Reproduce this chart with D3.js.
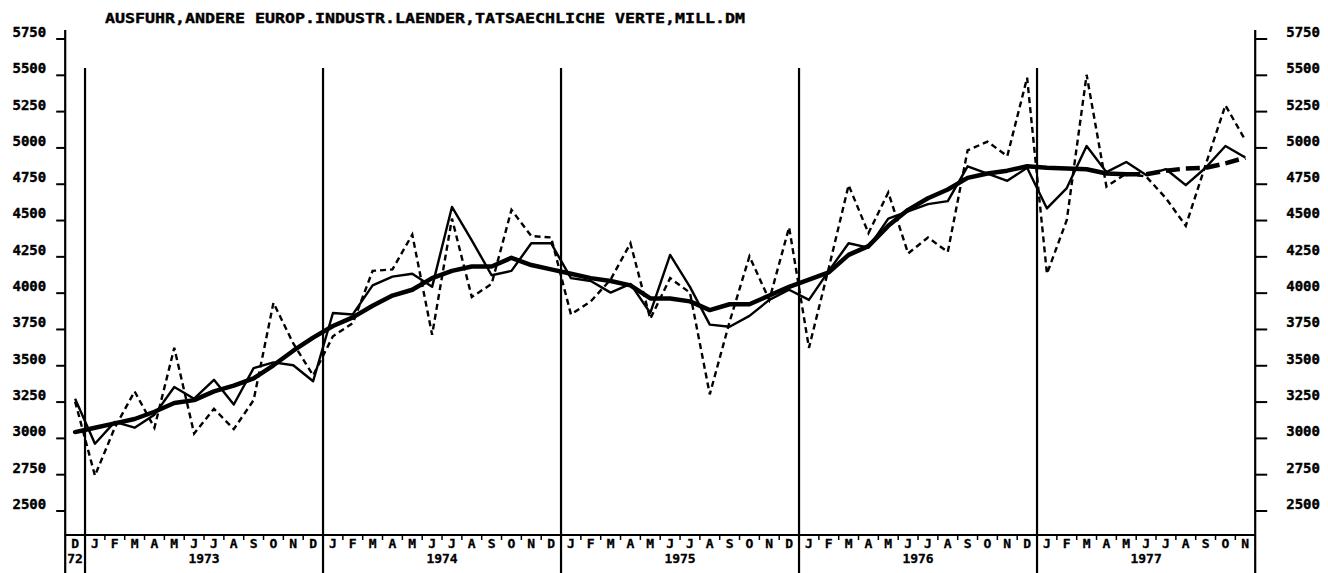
<!DOCTYPE html>
<html>
<head>
<meta charset="utf-8">
<script src="https://cdn.jsdelivr.net/npm/d3@7"></script>
<style>
  html, body { margin: 0; padding: 0; background: #fff; }
  svg { display: block; }
  text { font-family: "DejaVu Sans Mono", "Liberation Mono", monospace; font-weight: bold; fill: #000; }
</style>
</head>
<body>
<svg id="chart" width="1328" height="573"></svg>
<script>
// Exports to other European industrial countries, actual values, million DM
// Monthly series from Dec 1972 (index 0) to Nov 1977 (index 59)
const title = "AUSFUHR,ANDERE EUROP.INDUSTR.LAENDER,TATSAECHLICHE VERTE,MILL.DM";

const monthInitials = ["J", "F", "M", "A", "M", "J", "J", "A", "S", "O", "N", "D"];
const firstMonth = 11;              // series starts in December
const yearLabels = ["72", "1973", "1974", "1975", "1976", "1977"];
const yearFirstIndex = [0, 1, 13, 25, 37, 49];
const yearLastIndex  = [0, 12, 24, 36, 48, 59];

const yTicks = [2500, 2750, 3000, 3250, 3500, 3750, 4000, 4250, 4500, 4750, 5000, 5250, 5500, 5750];

// actual values (dashed)
const actual = [
  3250,
  2740, 3070, 3320, 3070, 3620, 3030, 3200, 3060, 3260, 3930, 3650, 3430,
  3700, 3790, 4150, 4160, 4400, 3710, 4510, 3970, 4060, 4570, 4390, 4380,
  3850, 3940, 4090, 4340, 3820, 4100, 4000, 3300, 3800, 4250, 3950, 4450,
  3620, 4170, 4740, 4410, 4690, 4270, 4380, 4280, 4980, 5040, 4940, 5480,
  4130, 4500, 5500, 4730, 4820, 4800, 4650, 4460, 4880, 5290, 5050
];

// seasonally adjusted values (thin solid)
const adjusted = [
  3270,
  2960, 3110, 3070, 3160, 3350, 3270, 3400, 3230, 3480, 3520, 3500, 3390,
  3860, 3850, 4050, 4110, 4130, 4040, 4590, 4360, 4120, 4150, 4340, 4340,
  4100, 4080, 4000, 4060, 3860, 4260, 4040, 3780, 3765, 3840, 3950, 4020,
  3950, 4150, 4340, 4310, 4510, 4560, 4610, 4630, 4870, 4820, 4770, 4860,
  4580, 4720, 5010, 4830, 4900, 4810, 4850, 4740, 4860, 5010, 4930
];

// trend (thick), extrapolated part drawn dashed from trendForecastStart
const trend = [
  3040,
  3070, 3100, 3130, 3180, 3240, 3260, 3320, 3360, 3410, 3500, 3600, 3690,
  3770, 3830, 3910, 3980, 4020, 4100, 4150, 4180, 4180, 4240, 4190, 4160,
  4130, 4100, 4080, 4050, 3960, 3960, 3940, 3880, 3920, 3920, 3980, 4040,
  4090, 4140, 4260, 4320, 4460, 4570, 4650, 4710, 4790, 4820, 4840, 4870,
  4860, 4855, 4850, 4820, 4815, 4815, 4840, 4855, 4860, 4890, 4930
];
const trendForecastStart = 53;

const n = actual.length;
const svg = d3.select("#chart");

const x = d3.scaleLinear().domain([-0.5, n - 0.5]).range([65.2, 1255.2]);
const y = d3.scaleLinear().domain([2500, 5750]).range([510.5, 38.5]);

const axisTop = 30, chartBottom = 573, monthLineY = 535;
const xLeft = x(-0.5), xRight = x(n - 0.5);

// title
svg.append("text")
  .attr("x", 105).attr("y", 23)
  .attr("font-size", 14)
  .attr("stroke", "#000").attr("stroke-width", 0.4)
  .attr("textLength", 640).attr("lengthAdjust", "spacingAndGlyphs")
  .text(title);

// vertical frame lines
svg.append("g").selectAll("line")
  .data([xLeft, xRight])
  .join("line")
  .attr("x1", d => d).attr("x2", d => d)
  .attr("y1", axisTop).attr("y2", chartBottom)
  .attr("stroke", "#000").attr("stroke-width", 2.2);

// year dividers
svg.append("g").selectAll("line")
  .data(yearFirstIndex.slice(1))
  .join("line")
  .attr("x1", d => x(d - 0.5)).attr("x2", d => x(d - 0.5))
  .attr("y1", 68).attr("y2", chartBottom)
  .attr("stroke", "#000").attr("stroke-width", 2.2);

// y axes
const styleAxis = g => {
  g.select(".domain").remove();
  g.selectAll(".tick line").attr("stroke", "#000").attr("stroke-width", 2);
  g.selectAll(".tick text").attr("font-size", 14).attr("dy", "-0.15em")
    .attr("stroke", "#000").attr("stroke-width", 0.4)
    .attr("font-family", "\"DejaVu Sans Mono\", monospace").attr("font-weight", "bold");
};
svg.append("g")
  .attr("transform", `translate(${xLeft},0)`)
  .call(d3.axisLeft(y).tickValues(yTicks).tickSize(9).tickPadding(10).tickFormat(d3.format("d")))
  .call(styleAxis);
svg.append("g")
  .attr("transform", `translate(${xRight},0)`)
  .call(d3.axisRight(y).tickValues(yTicks).tickSize(12).tickPadding(19).tickFormat(d3.format("d")))
  .call(styleAxis);

// month strip
svg.append("line")
  .attr("x1", xLeft).attr("x2", xRight)
  .attr("y1", monthLineY).attr("y2", monthLineY)
  .attr("stroke", "#000").attr("stroke-width", 2.2);

svg.append("g").selectAll("line")
  .data(d3.range(1, n))
  .join("line")
  .attr("x1", d => x(d - 0.5)).attr("x2", d => x(d - 0.5))
  .attr("y1", monthLineY).attr("y2", monthLineY + 5)
  .attr("stroke", "#000").attr("stroke-width", 1.5);

svg.append("g").selectAll("text")
  .data(d3.range(n))
  .join("text")
  .attr("x", d => x(d)).attr("y", 548)
  .attr("text-anchor", "middle").attr("font-size", 13)
  .attr("stroke", "#000").attr("stroke-width", 0.3)
  .text(d => monthInitials[(d + firstMonth) % 12]);

svg.append("g").selectAll("text")
  .data(yearLabels)
  .join("text")
  .attr("x", (d, i) => x((yearFirstIndex[i] + yearLastIndex[i]) / 2))
  .attr("y", 563)
  .attr("text-anchor", "middle").attr("font-size", 13)
  .attr("stroke", "#000").attr("stroke-width", 0.3)
  .text(d => d);

// series
const line = d3.line().x(d => x(d.i)).y(d => y(d.v));
const pts = arr => arr.map((v, i) => ({ i, v }));

svg.append("path")
  .attr("d", line(pts(actual)))
  .attr("fill", "none").attr("stroke", "#000")
  .attr("stroke-width", 2.4).attr("stroke-dasharray", "6,4");

svg.append("path")
  .attr("d", line(pts(adjusted)))
  .attr("fill", "none").attr("stroke", "#000")
  .attr("stroke-width", 2.4).attr("stroke-linejoin", "round");

const trendPts = pts(trend);
svg.append("path")
  .attr("d", line(trendPts.slice(0, trendForecastStart + 1)))
  .attr("fill", "none").attr("stroke", "#000")
  .attr("stroke-width", 4.5).attr("stroke-linejoin", "round").attr("stroke-linecap", "round");
svg.append("path")
  .attr("d", line(trendPts.slice(trendForecastStart)))
  .attr("fill", "none").attr("stroke", "#000")
  .attr("stroke-width", 4.5).attr("stroke-dasharray", "14,6");
</script>
</body>
</html>
